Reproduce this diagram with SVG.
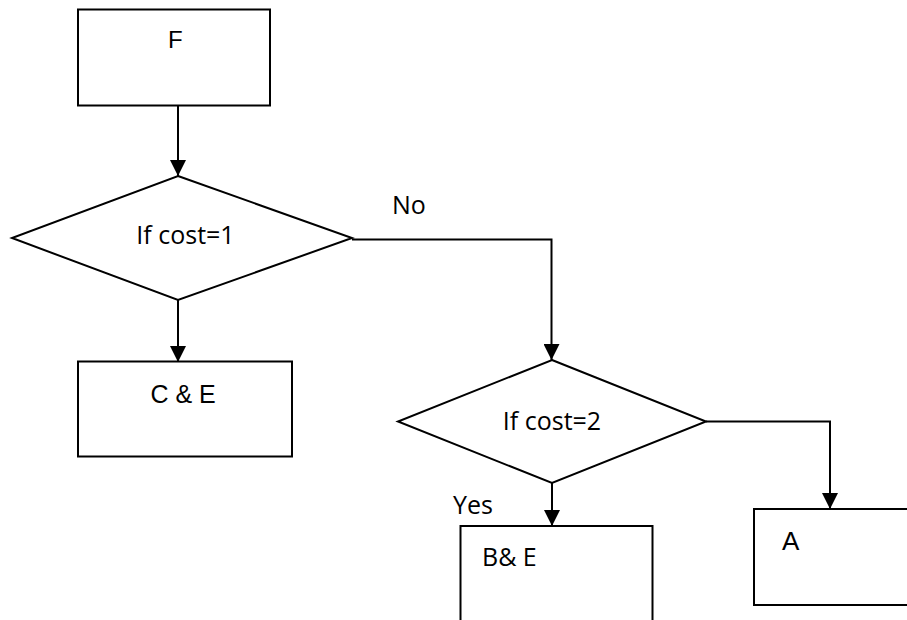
<svg xmlns="http://www.w3.org/2000/svg" width="907" height="620" viewBox="0 0 907 620">
<style>
.shape{fill:#fff;stroke:#000;stroke-width:2}
.conn{fill:none;stroke:#000;stroke-width:2}
.a{font-family:"Liberation Sans",Arial,sans-serif;font-size:24px;fill:#000}
.c{font-family:"Open Sans","Noto Sans",sans-serif;font-size:25px;fill:#000}
</style>
<defs>
<marker id="arr" markerUnits="userSpaceOnUse" markerWidth="16" markerHeight="16" viewBox="0 0 10 10" refX="10" refY="5" orient="auto">
<path d="M0,0 L10,5 L0,10 z" fill="#000"/>
</marker>
</defs>
<rect width="907" height="620" fill="#fff"/>
<g id="connectors">
<line class="conn" x1="178" y1="106" x2="178" y2="176" marker-end="url(#arr)"/>
<line class="conn" x1="178" y1="300" x2="178" y2="362" marker-end="url(#arr)"/>
<polyline class="conn" points="352,239.5 551.5,239.5 551.5,360" marker-end="url(#arr)"/>
<line class="conn" x1="552" y1="483" x2="552" y2="526" marker-end="url(#arr)"/>
<polyline class="conn" points="706,421.5 830,421.5 830,509" marker-end="url(#arr)"/>
<text class="c" x="392" y="214">No</text>
<text class="c" x="453" y="514">Yes</text>
</g>
<g id="F">
<rect class="shape" x="78" y="9.5" width="192" height="96"/>
<text class="a" x="168" y="48">F</text>
</g>
<g id="decision1">
<polygon class="shape" points="178,176 352,238 178,300 12,238"/>
<text class="c" x="185.5" y="244" text-anchor="middle">If cost=1</text>
</g>
<g id="CE">
<rect class="shape" x="78" y="361.5" width="214" height="95"/>
<text class="a" x="150.5" y="403" style="font-size:25px">C &amp; E</text>
</g>
<g id="decision2">
<polygon class="shape" points="552,360 706,421.5 552,483 398,421.5"/>
<text class="c" x="552" y="430" text-anchor="middle">If cost=2</text>
</g>
<g id="BE">
<rect class="shape" x="460.5" y="526" width="192" height="120"/>
<text class="c" x="482" y="566">B&amp; E</text>
</g>
<g id="A">
<rect class="shape" x="754" y="509" width="200" height="96"/>
<text class="a" x="782" y="550" style="font-size:26px">A</text>
</g>
</svg>
